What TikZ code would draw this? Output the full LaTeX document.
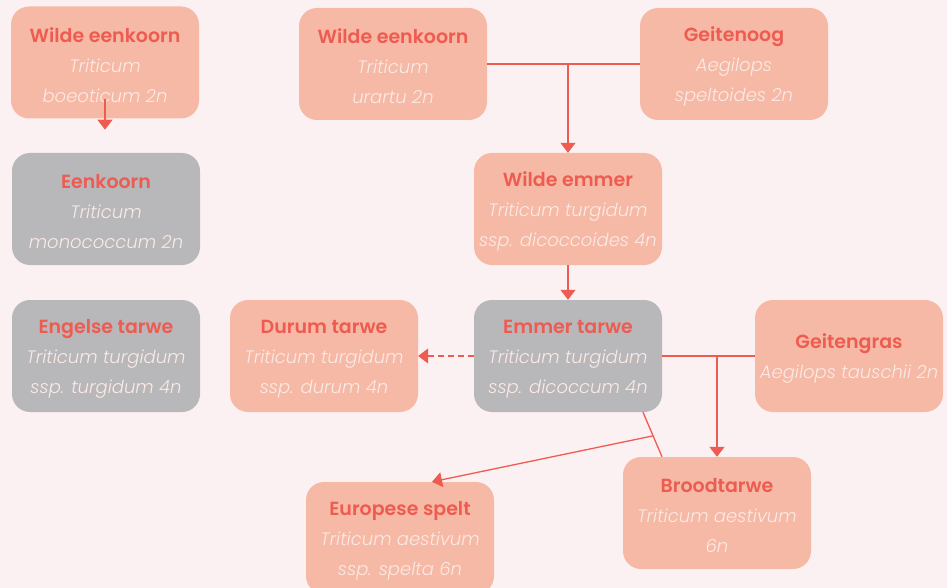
\documentclass[tikz,border=0pt]{standalone}
\usepackage{fontspec}
\setmainfont{Poppins}[ItalicFont=Poppins Light Italic,BoldFont=Poppins SemiBold]
\usetikzlibrary{arrows.meta,calc}
\definecolor{achter}{HTML}{FCF1F2}
\definecolor{zalm}{HTML}{F6B9A5}
\definecolor{grijs}{HTML}{B8B7B9}
\definecolor{rood}{HTML}{EE5B51}
\definecolor{licht}{HTML}{FBEAE6}
\newcommand\titel[1]{{\rule{0pt}{20pt}\fontsize{19}{30}\bfseries\color{rood}#1}}
\newcommand\soort[1]{{\itshape #1}}
\begin{document}
\begin{tikzpicture}[x=1pt,y=-1pt,>={Triangle[width=15pt,length=10pt]},font=\fontsize{18}{30}\selectfont]
	\tikzset{box/.style={fill=zalm,rounded corners=18pt,minimum width=188pt,minimum height=112pt,align=center,inner sep=0pt,text=licht},
		grijsbox/.style={box,fill=grijs},
		lijn/.style={draw=rood,line width=1.3pt}
	}
	\fill[achter] (0,0) rectangle (947,588);
	\useasboundingbox (0,0) rectangle (947,588);
	\clip (0,0) rectangle (947,588);
	\node[box] (wek1) at (105,62.5) {\titel{Wilde eenkoorn}\\\soort{Triticum}\\\soort{boeoticum 2n}};
	\node[box] (wek2) at (393,64) {\titel{Wilde eenkoorn}\\\soort{Triticum}\\\soort{urartu 2n}};
	\node[box] (geit) at (734,64) {\titel{Geitenoog}\\\soort{Aegilops}\\\soort{speltoides 2n}};
	\node[grijsbox] (eenk) at (106,209) {\titel{Eenkoorn}\\\soort{Triticum}\\\soort{monococcum 2n}};
	\node[box] (wem) at (568,209) {\titel{Wilde emmer}\\\soort{Triticum turgidum}\\\soort{ssp. dicoccoides 4n}};
	\node[grijsbox] (eng) at (106,356) {\titel{Engelse tarwe}\\\soort{Triticum turgidum}\\\soort{ssp. turgidum 4n}};
	\node[box] (dur) at (324,356) {\titel{Durum tarwe}\\\soort{Triticum turgidum}\\\soort{ssp. durum 4n}};
	\node[grijsbox] (emt) at (568,356) {\titel{Emmer tarwe}\\\soort{Triticum turgidum}\\\soort{ssp. dicoccum 4n}};
	\node[box] (geig) at (849,356) {\titel{Geitengras}\\\soort{Aegilops tauschii 2n}};
	\node[box] (brood) at (717,513) {\titel{Broodtarwe}\\\soort{Triticum aestivum}\\\soort{6n}};
	\node[box] (spelt) at (400,538) {\titel{Europese spelt}\\\soort{Triticum aestivum}\\\soort{ssp. spelta 6n}};
	\draw[lijn,->] ([yshift=20pt]wek1.south) -- ([yshift=-11pt]wek1.south);
	\draw[lijn] (wek2.east) -- (geit.west);
	\draw[lijn,->] (wem.north |- wek2.east) -- (wem.north);
	\draw[lijn,->] (wem.south) -- (emt.north);
	\draw[lijn,->,dash pattern=on 6pt off 4pt] (emt.west) -- (dur.east);
	\draw[lijn] (emt.east) -- (geig.west);
	\draw[lijn,->] (brood.north |- emt.east) -- (brood.north);
	\coordinate (a) at ([xshift=75pt]emt.south);
	\coordinate (b) at ([xshift=-55pt]brood.north);
	\draw[lijn] (a) -- (b);
	\coordinate (tak) at ($(a)!0.53!(b)$);
	\draw[lijn,->] (tak) -- ([xshift=32pt]spelt.north);
\end{tikzpicture}
\end{document}
